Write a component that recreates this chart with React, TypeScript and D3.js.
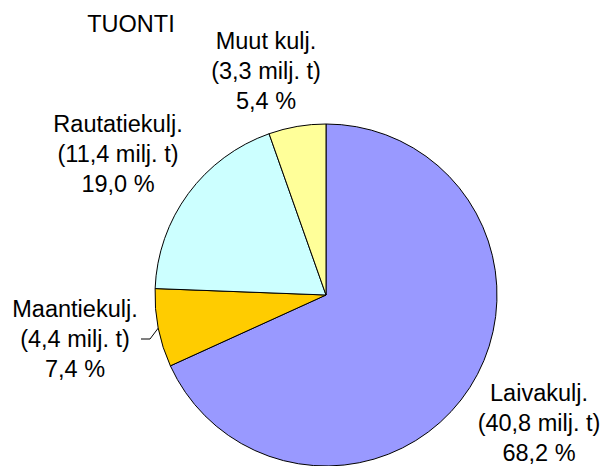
import React, { useRef, useEffect } from 'react';
import * as d3 from 'd3';

// chart data
const categories = ['Laivakulj.', 'Maantiekulj.', 'Rautatiekulj.', 'Muut kulj.'];
const tonnes = ['40,8', '4,4', '11,4', '3,3'];
const shares = [68.2, 7.4, 19.0, 5.4];
const shareLabels = ['68,2 %', '7,4 %', '19,0 %', '5,4 %'];
const title = 'TUONTI';

const colors = ['#9999FF', '#FFCC00', '#CCFFFF', '#FFFF99'];
// label anchor (center x, first baseline y) per slice
const labelPos: [number, number][] = [
  [539, 401],
  [75, 317],
  [118, 132],
  [266, 49],
];

export default function App() {
  const svgRef = useRef<SVGSVGElement | null>(null);
  const width = 603;
  const height = 466;

  useEffect(() => {
    const svg = d3.select(svgRef.current).attr('width', width).attr('height', height);
    const cx = 326;
    const cy = 295;
    const radius = 171;
    const font = '"Liberation Sans", Arial, sans-serif';
    const fontSize = 23.5;
    const lineH = 30;

    const data = categories.map((c, i) => ({ label: c, value: shares[i], i }));
    const pie = d3.pie<any>().value(d => d.value).sort(null);
    const arc = d3.arc<any>().innerRadius(0).outerRadius(radius);

    const g = svg.append('g').attr('transform', `translate(${cx}, ${cy})`);

    g.selectAll('path')
      .data(pie(data))
      .enter()
      .append('path')
      .attr('d', arc)
      .attr('fill', d => colors[d.data.i])
      .attr('stroke', '#000')
      .attr('stroke-width', 1);

    // Labels
    const labels = svg.selectAll('g.lbl')
      .data(data)
      .enter()
      .append('g')
      .attr('class', 'lbl')
      .attr('transform', d => `translate(${labelPos[d.i][0]}, ${labelPos[d.i][1]})`);

    labels.append('text')
      .attr('text-anchor', 'middle')
      .style('font-family', font)
      .style('font-size', `${fontSize}px`)
      .attr('fill', '#000')
      .selectAll('tspan')
      .data(d => [d.label, `(${tonnes[d.i]} milj. t)`, shareLabels[d.i]])
      .enter()
      .append('tspan')
      .attr('x', 0)
      .attr('y', (_, k) => k * lineH)
      .text(d => d);

    // leader line for the small Maantie slice
    const mid = pie(data)[1];
    const a = (mid.startAngle + mid.endAngle) / 2;
    const ex = cx + Math.sin(a) * radius;
    const ey = cy - Math.cos(a) * radius;
    svg.append('polyline')
      .attr('points', `141,339 150,339 ${ex},${ey}`)
      .attr('fill', 'none')
      .attr('stroke', '#000')
      .attr('stroke-width', 1);

    svg.append('text')
      .attr('x', 131)
      .attr('y', 32)
      .attr('text-anchor', 'middle')
      .style('font-family', font)
      .style('font-size', `${fontSize}px`)
      .text(title);

    return () => {
      svg.selectAll('*').remove();
    };
  }, []);

  return (
    <svg
      ref={svgRef}
      style={{ position: 'absolute', left: 0, top: 0, background: '#fff' }}
    ></svg>
  );
}
